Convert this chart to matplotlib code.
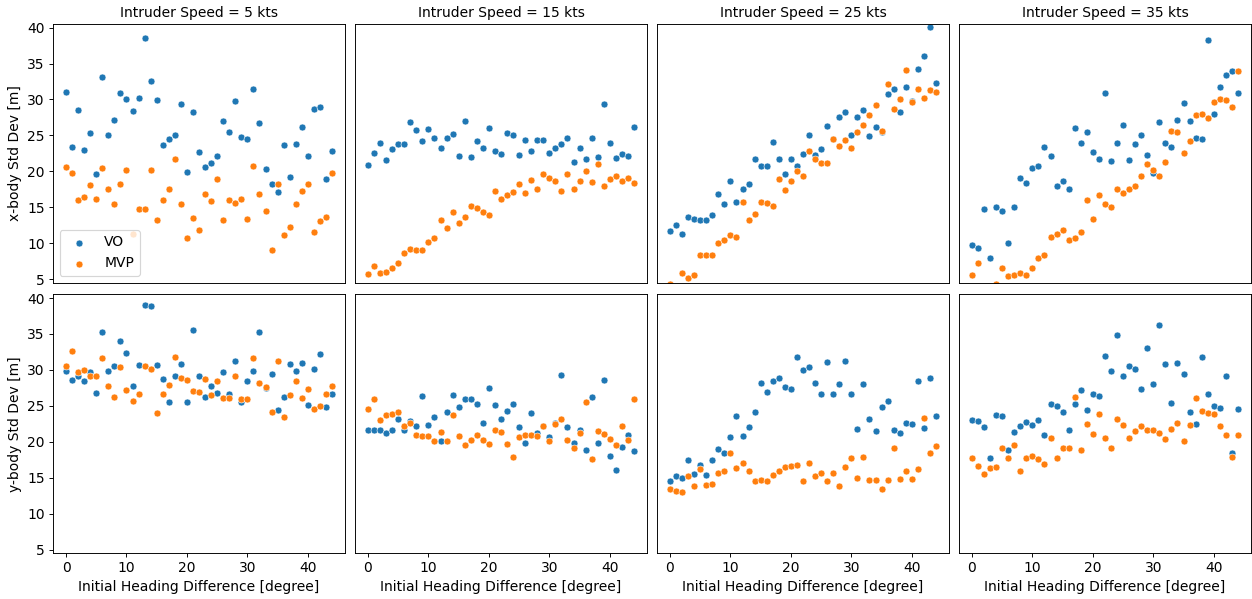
import numpy as np
import matplotlib
matplotlib.use("Agg")
import matplotlib.pyplot as plt

# initial heading difference [degree]
heading = list(range(45))
speeds = [5, 15, 25, 35]

# x-body std dev [m]
vo_x_5 = [31.0, 23.4, 28.6, 23.0, 25.3, 19.6, 33.1, 25.0, 27.1, 30.9, 30.0, 28.4, 30.2, 38.6, 32.5, 29.9, 23.7, 24.5, 25.0, 29.3, 19.9, 28.2, 22.7, 20.6, 21.2, 22.1, 27.0, 25.5, 29.8, 24.8, 24.5, 31.4, 26.7, 20.3, 18.2, 17.1, 23.7, 19.2, 23.8, 26.1, 22.1, 28.7, 29.0, 19.0, 22.8]
mvp_x_5 = [20.6, 19.8, 16.0, 16.4, 18.1, 16.2, 20.4, 17.6, 15.4, 18.3, 20.2, 11.3, 14.7, 14.7, 20.2, 13.3, 16.0, 17.6, 21.7, 15.4, 10.8, 13.5, 11.9, 16.9, 15.9, 18.9, 13.2, 16.0, 15.6, 16.1, 13.4, 20.8, 16.8, 14.5, 9.0, 18.3, 11.1, 12.3, 15.4, 17.3, 18.3, 11.6, 13.1, 13.6, 19.8]
vo_x_15 = [20.9, 22.5, 24.0, 21.6, 23.1, 23.8, 23.8, 26.9, 25.7, 24.2, 25.9, 24.7, 23.2, 24.7, 25.2, 22.2, 27.0, 22.0, 24.2, 23.2, 26.0, 22.9, 22.4, 25.3, 25.0, 22.3, 24.4, 22.9, 24.3, 24.4, 22.6, 23.2, 23.8, 24.7, 21.3, 23.2, 21.7, 24.7, 22.0, 29.3, 23.9, 21.9, 22.4, 22.1, 26.2]
mvp_x_15 = [5.7, 6.9, 5.9, 6.0, 6.6, 7.3, 8.7, 9.2, 9.0, 9.1, 10.2, 10.7, 13.2, 12.1, 14.4, 12.8, 13.6, 15.2, 14.9, 14.3, 13.9, 17.3, 16.1, 16.7, 17.1, 18.3, 17.0, 18.8, 17.6, 19.6, 19.1, 18.6, 17.3, 19.7, 17.5, 18.7, 20.0, 18.5, 21.0, 18.0, 18.9, 19.4, 18.7, 19.1, 18.4]
vo_x_25 = [11.7, 12.5, 11.3, 13.6, 13.4, 13.3, 13.3, 13.9, 16.8, 15.5, 18.7, 15.7, 17.5, 18.3, 21.7, 20.7, 20.8, 24.1, 21.7, 19.7, 21.7, 20.8, 22.4, 25.0, 22.3, 23.1, 26.3, 24.5, 27.5, 28.3, 25.0, 27.6, 28.5, 24.9, 26.1, 25.5, 30.8, 31.5, 28.3, 31.7, 29.8, 34.3, 36.1, 40.1, 32.3]
mvp_x_25 = [4.4, 3.9, 5.8, 5.1, 5.6, 8.3, 8.3, 8.4, 10.1, 10.4, 11.1, 10.9, 15.8, 13.2, 14.0, 15.7, 15.6, 15.2, 18.9, 17.4, 18.7, 20.0, 19.4, 22.8, 21.7, 21.2, 21.1, 24.5, 23.5, 24.4, 23.2, 25.5, 26.5, 27.8, 29.2, 25.6, 32.1, 28.7, 30.1, 34.1, 29.6, 31.4, 30.2, 31.3, 31.0]
vo_x_35 = [9.7, 9.4, 14.8, 8.0, 15.0, 14.5, 10.1, 15.1, 19.1, 18.4, 20.4, 20.8, 23.4, 22.1, 18.0, 18.7, 17.5, 26.0, 24.0, 25.5, 22.7, 21.7, 30.9, 21.5, 24.0, 26.5, 21.6, 23.8, 25.0, 22.3, 19.8, 26.9, 23.9, 23.4, 27.2, 29.5, 27.0, 24.7, 24.5, 38.3, 28.0, 31.7, 33.4, 34.0, 30.9]
mvp_x_35 = [5.6, 7.3, 3.7, 3.6, 4.4, 6.6, 5.5, 5.6, 5.9, 5.6, 6.5, 8.0, 8.4, 10.9, 11.3, 11.8, 10.5, 10.8, 11.5, 16.0, 13.4, 16.7, 15.4, 15.0, 17.6, 17.0, 17.5, 18.0, 19.4, 21.0, 20.2, 19.4, 21.3, 25.6, 25.5, 22.6, 24.2, 27.9, 28.0, 27.4, 29.6, 30.0, 29.9, 29.0, 33.9]

# y-body std dev [m]
vo_y_5 = [29.8, 28.6, 29.1, 28.5, 29.7, 26.8, 35.3, 29.8, 30.6, 34.0, 32.3, 27.8, 30.7, 39.0, 38.9, 30.7, 28.7, 25.6, 29.2, 30.8, 25.6, 35.5, 29.2, 26.2, 27.7, 26.8, 29.7, 26.6, 31.2, 25.5, 28.5, 29.8, 35.3, 27.5, 29.4, 24.4, 26.2, 30.8, 29.9, 30.9, 25.1, 30.2, 32.2, 24.9, 26.6]
mvp_y_5 = [30.5, 32.7, 29.7, 30.0, 29.2, 29.1, 31.7, 27.8, 26.2, 30.4, 27.2, 25.7, 26.6, 30.5, 30.2, 24.0, 26.6, 27.9, 31.8, 28.9, 28.6, 27.1, 26.9, 28.8, 26.5, 28.4, 26.1, 26.1, 29.1, 25.9, 26.0, 31.7, 28.2, 27.6, 24.1, 31.3, 23.5, 26.5, 28.5, 26.1, 27.4, 24.6, 25.0, 26.7, 27.7]
vo_y_15 = [21.7, 21.7, 21.6, 21.2, 21.6, 23.2, 21.7, 22.9, 22.2, 26.4, 22.3, 23.5, 20.1, 24.1, 26.5, 24.8, 26.0, 26.0, 25.3, 22.6, 27.5, 25.1, 23.2, 24.3, 25.3, 22.0, 19.9, 24.0, 21.2, 22.2, 20.7, 22.6, 29.3, 22.0, 19.9, 21.6, 18.9, 26.3, 19.9, 28.6, 18.1, 16.1, 19.3, 20.9, 18.7]
mvp_y_15 = [24.6, 26.0, 23.1, 23.8, 23.9, 24.1, 22.2, 22.6, 21.0, 20.8, 20.8, 20.1, 21.4, 20.1, 23.8, 20.8, 19.5, 20.3, 20.9, 20.3, 19.7, 21.7, 21.4, 19.7, 17.9, 20.7, 21.0, 21.0, 20.8, 22.2, 20.1, 22.5, 23.2, 20.3, 19.2, 21.2, 25.6, 17.6, 21.5, 21.1, 20.4, 19.5, 22.2, 20.3, 26.0]
vo_y_25 = [14.6, 15.3, 15.0, 17.5, 15.5, 16.8, 15.4, 17.5, 19.0, 18.5, 20.7, 23.6, 20.8, 22.1, 24.1, 28.2, 26.9, 28.5, 28.9, 27.6, 27.4, 31.8, 30.0, 30.4, 28.2, 26.7, 31.1, 26.6, 28.0, 31.3, 26.6, 21.8, 28.0, 23.2, 21.5, 24.8, 25.7, 21.6, 21.3, 22.6, 22.5, 28.5, 21.9, 28.9, 23.6]
mvp_y_25 = [13.4, 13.2, 13.0, 15.2, 13.9, 16.2, 14.0, 14.2, 15.7, 15.9, 18.4, 16.4, 17.1, 15.9, 14.6, 14.7, 14.6, 15.4, 15.9, 16.5, 16.6, 16.8, 14.6, 17.1, 15.2, 15.7, 14.6, 15.7, 13.9, 16.5, 17.7, 15.0, 17.9, 14.7, 14.7, 13.5, 14.7, 19.1, 14.8, 15.9, 14.9, 16.2, 23.3, 18.4, 19.4]
vo_y_35 = [23.0, 22.9, 22.1, 17.8, 23.7, 23.6, 18.8, 21.4, 22.2, 22.8, 22.3, 23.1, 21.0, 25.3, 25.0, 24.1, 21.6, 25.3, 27.2, 24.4, 26.6, 26.4, 32.0, 29.8, 34.9, 29.1, 30.5, 30.2, 27.3, 33.1, 28.1, 36.2, 30.8, 25.4, 30.9, 29.4, 24.1, 22.5, 31.8, 26.6, 25.0, 24.7, 29.2, 18.5, 24.6]
mvp_y_35 = [17.7, 16.7, 15.5, 16.3, 16.5, 19.2, 17.7, 19.5, 16.0, 17.8, 18.1, 17.6, 16.9, 20.6, 17.8, 19.1, 19.1, 26.3, 18.8, 22.5, 21.1, 23.9, 20.5, 19.1, 23.2, 22.4, 20.5, 21.5, 22.2, 21.7, 21.7, 21.3, 20.4, 21.8, 22.6, 20.1, 22.3, 26.1, 24.3, 24.0, 23.9, 22.2, 21.0, 17.9, 20.9]

vo_rows = [[vo_x_5, vo_x_15, vo_x_25, vo_x_35], [vo_y_5, vo_y_15, vo_y_25, vo_y_35]]
mvp_rows = [[mvp_x_5, mvp_x_15, mvp_x_25, mvp_x_35], [mvp_y_5, mvp_y_15, mvp_y_25, mvp_y_35]]
row_labels = ["x-body Std Dev [m]", "y-body Std Dev [m]"]


def main():
	plt.rcParams["font.size"] = 12
	dpi = 1252 / 15
	fig, axes = plt.subplots(2, 4, figsize=(15, 599 / dpi), dpi=dpi, sharex=True, sharey=True)
	for r in range(2):
		for c in range(4):
			ax = axes[r, c]
			ax.scatter(heading, vo_rows[r][c], s=36, color="tab:blue", edgecolor="white", linewidth=0.5, label="VO")
			ax.scatter(heading, mvp_rows[r][c], s=36, color="tab:orange", edgecolor="white", linewidth=0.5, label="MVP")
			if r == 0:
				ax.set_title(f"Intruder Speed = {speeds[c]} kts", fontsize=12)
				ax.tick_params(bottom=False)
			else:
				ax.set_xlabel("Initial Heading Difference [degree]")
			if c == 0:
				ax.set_ylabel(row_labels[r])
			else:
				ax.tick_params(left=False)
	axes[0, 0].set_ylim(4.5, 40.5)
	axes[0, 0].set_yticks([5, 10, 15, 20, 25, 30, 35, 40])
	axes[1, 0].set_xticks([0, 10, 20, 30, 40])
	axes[0, 0].legend(loc="lower left")
	fig.subplots_adjust(left=0.0421, right=0.9994, top=0.96, bottom=0.0763, wspace=0.032, hspace=0.045)
	fig.savefig("out.png", dpi=dpi)
	plt.close()


if __name__ == "__main__":
	main()
